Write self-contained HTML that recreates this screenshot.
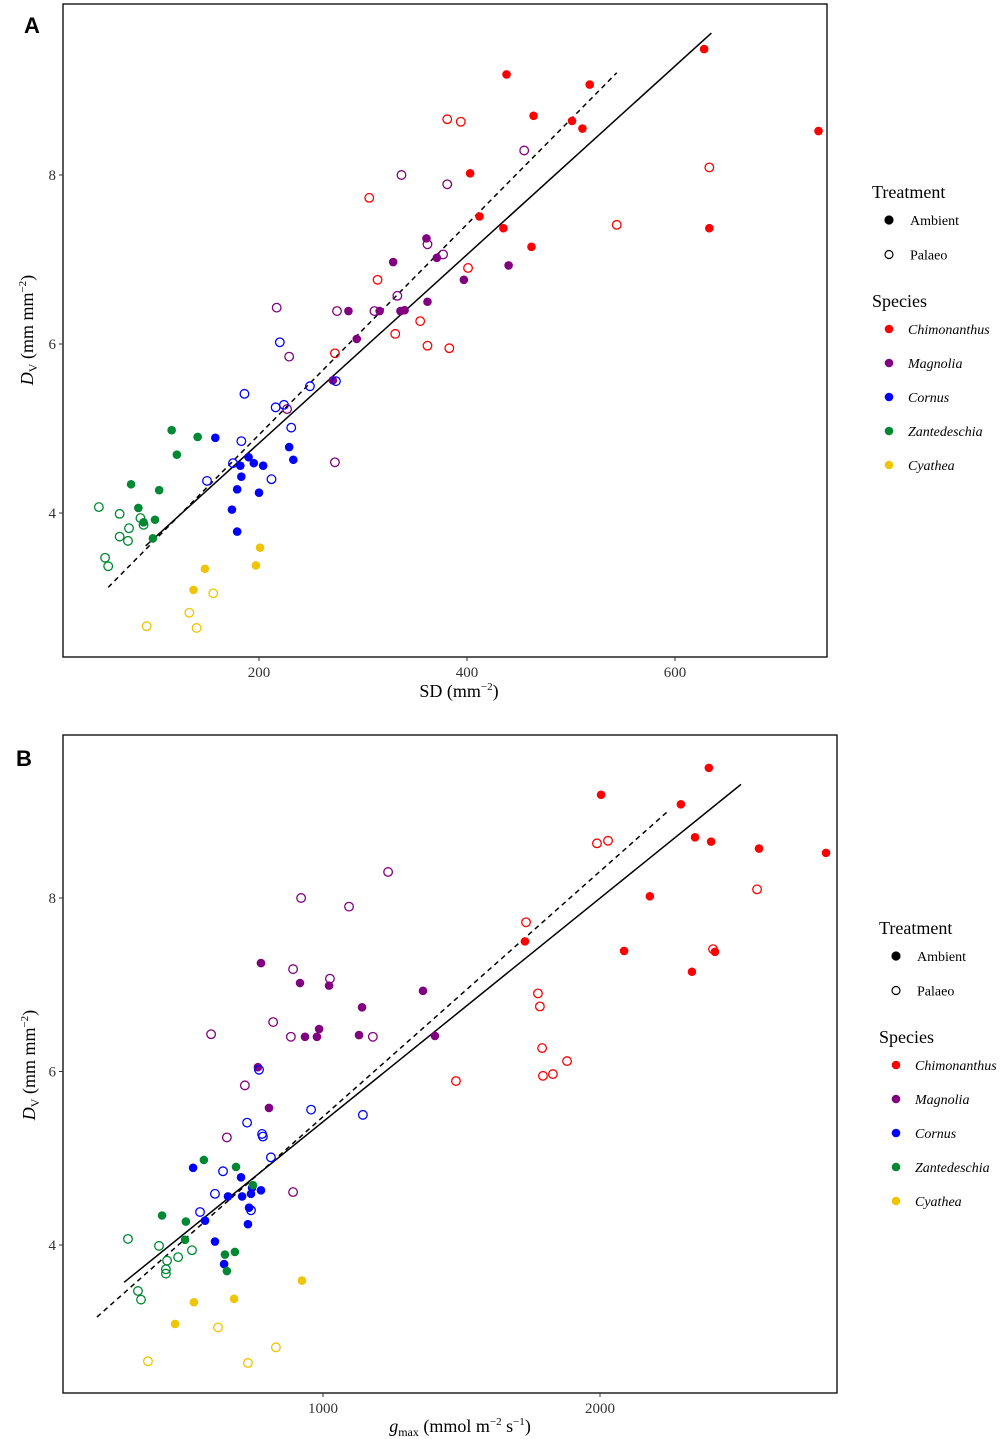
<!DOCTYPE html>
<html><head><meta charset="utf-8">
<style>
body{margin:0;background:#fff;}
svg{display:block;font-family:"Liberation Serif",serif;}
</style></head>
<body>
<svg id="fig" width="1000" height="1439" viewBox="0 0 1000 1439"></svg>
<script>
const speciesNames = ["Chimonanthus","Magnolia","Cornus","Zantedeschia","Cyathea"];
const speciesColors = ["#ff0000","#800080","#0000ff","#008833","#f0c400"];
// Dv values per species, ambient and palaeo
const dvAmb = [
 [9.19,9.07,8.70,8.64,8.55,9.49,8.52,8.02,7.51,7.37,7.15,7.37],
 [6.97,7.02,7.25,6.76,6.93,6.39,6.39,6.39,6.40,6.50,6.06,5.57],
 [4.89,4.78,4.66,4.59,4.56,4.56,4.63,4.43,4.28,4.24,4.04,3.78],
 [4.98,4.90,4.69,4.34,4.27,4.06,3.92,3.89,3.70],
 [3.59,3.38,3.34,3.09]];
const dvPal = [
 [8.66,8.63,7.73,8.09,7.41,6.76,6.90,6.27,6.12,5.89,5.98,5.95],
 [8.00,7.89,8.29,7.18,7.06,6.43,6.39,6.39,6.57,5.85,5.23,4.60],
 [6.02,5.41,5.50,5.56,5.25,5.28,5.01,4.85,4.59,4.38,4.40],
 [4.07,3.99,3.94,3.82,3.86,3.72,3.67,3.47,3.37],
 [3.05,2.82,2.66,2.64]];
// SD values (panel A)
const sdAmb = [
 [438,518,464,501,511,628,738,403,412,435,462,633],
 [329,371,361,397,440,286,316,336,340,362,294,271],
 [158,229,190,195,182,204,233,183,179,200,174,179],
 [116,141,121,77,104,84,100,89,98],
 [201,197,148,137]];
const sdPal = [
 [381,394,306,633,544,314,401,355,331,273,362,383],
 [337,381,455,362,377,217,275,311,333,229,227,273],
 [220,186,249,274,216,224,231,183,175,150,212],
 [46,66,86,75,89,66,74,52,55],
 [156,133,92,140]];
// gmax values (panel B)
const gAmb = [
 [2393,2292,2343,2004,2401,2816,2574,2180,1729,2087,2332,2415],
 [917,1022,776,1141,1361,986,935,978,1130,1404,765,805],
 [531,704,744,740,708,657,776,733,574,729,610,643],
 [570,686,747,419,505,502,682,646,653],
 [924,679,534,466]];
const dvAmbB = [
 [9.50,9.08,8.70,9.19,8.65,8.52,8.57,8.02,7.50,7.39,7.15,7.38],
 [7.02,6.99,7.25,6.74,6.93,6.49,6.40,6.40,6.42,6.41,6.05,5.58],
 [4.89,4.78,4.66,4.59,4.56,4.56,4.63,4.43,4.28,4.24,4.04,3.78],
 [4.98,4.90,4.69,4.34,4.27,4.06,3.92,3.89,3.70],
 [3.59,3.38,3.34,3.09]];
const gPal = [
 [1989,2029,1733,2567,2408,1783,1776,1791,1881,1480,1794,1830],
 [921,1094,1235,892,1025,596,820,884,1180,718,653,892],
 [769,726,1144,957,783,780,812,639,610,556,740],
 [296,408,527,437,477,433,433,332,343],
 [621,830,368,729]];
const dvPalB = [
 [8.63,8.66,7.72,8.10,7.41,6.75,6.90,6.27,6.12,5.89,5.95,5.97],
 [8.00,7.90,8.30,7.18,7.07,6.43,6.57,6.40,6.40,5.84,5.24,4.61],
 [6.02,5.41,5.50,5.56,5.25,5.28,5.01,4.85,4.59,4.38,4.40],
 [4.07,3.99,3.94,3.82,3.86,3.72,3.67,3.47,3.37],
 [3.05,2.82,2.66,2.64]];
const xTicksA = [200,400,600];
const xTicksB = [1000,2000];
const yTicks = [4,6,8];
const solidA = [[91,3.61],[635,9.68]];
const dashA = [[55,3.12],[544,9.21]];
const solidB = [[282,3.57],[2509,9.31]];
const dashB = [[184,3.17],[2245,9.0]];

const NS="http://www.w3.org/2000/svg";
const svg=document.getElementById('fig');
function mk(tag,attrs,parent){const e=document.createElementNS(NS,tag);for(const k in attrs)e.setAttribute(k,attrs[k]);(parent||svg).appendChild(e);return e;}

function panel(cfg){
  const g=mk('g',{});
  
  
  const sx=v=>cfg.x0+(v-cfg.xv0)*cfg.xs;
  const sy=v=>cfg.y0-(v-cfg.yv0)*cfg.ys;
  const box=mk('rect',{x:cfg.box[0],y:cfg.box[1],width:cfg.box[2]-cfg.box[0],height:cfg.box[3]-cfg.box[1],fill:'none',stroke:'#000','stroke-width':1.3},g);
  
  
  cfg.xt.forEach(t=>{
    mk('line',{x1:sx(t),x2:sx(t),y1:cfg.box[3],y2:cfg.box[3]+4,stroke:'#333'},g);
    const tx=mk('text',{x:sx(t),y:cfg.box[3]+20,'text-anchor':'middle','font-size':15,fill:'#333'},g);
    tx.textContent=t;
    
    
  });
  yTicks.forEach(t=>{
    mk('line',{x1:cfg.box[0]-4,x2:cfg.box[0],y1:sy(t),y2:sy(t),stroke:'#333'},g);
    const tx=mk('text',{x:cfg.box[0]-7,y:sy(t)+5,'text-anchor':'end','font-size':15,fill:'#333'},g);
    tx.textContent=t;
    
    
  });
  const L1=mk('line',{x1:sx(cfg.solid[0][0]),y1:sy(cfg.solid[0][1]),x2:sx(cfg.solid[1][0]),y2:sy(cfg.solid[1][1]),stroke:'#000','stroke-width':1.5},g);
  
  
  const L2=mk('line',{x1:sx(cfg.dash[0][0]),y1:sy(cfg.dash[0][1]),x2:sx(cfg.dash[1][0]),y2:sy(cfg.dash[1][1]),stroke:'#000','stroke-width':1.5,'stroke-dasharray':'5,4'},g);
  
  
  for(let s=0;s<5;s++){
    cfg.pxs[s].forEach((v,i)=>{
      const c=mk('circle',{cx:sx(v),cy:sy(cfg.pys[s][i]),r:4.3,fill:'none',stroke:speciesColors[s],'stroke-width':1.3},g);
      
      
    });
    cfg.axs[s].forEach((v,i)=>{
      const c=mk('circle',{cx:sx(v),cy:sy(cfg.ays[s][i]),r:4.3,fill:speciesColors[s]},g);
      
      
    });
  }
  const lt=mk('text',{x:cfg.letter[0],y:cfg.letter[1],'font-family':'Liberation Sans,sans-serif','font-weight':'bold','font-size':22},g);
  lt.textContent=cfg.letterText;
  
  
  const xl=mk('text',{x:cfg.xl[0],y:cfg.xl[1],'text-anchor':'middle','font-size':18},g);
  xl.innerHTML=cfg.xlabel;
  
  
  const yl=mk('text',{x:0,y:0,'text-anchor':'middle','font-size':18,transform:`translate(${cfg.yl[0]},${cfg.yl[1]}) rotate(-90)`},g);
  yl.innerHTML='<tspan font-style="italic">D</tspan><tspan font-size="12" dy="4">V</tspan><tspan dy="-4"> (mm mm</tspan><tspan font-size="11" dy="-7">−2</tspan><tspan dy="7">)</tspan>';
  
  
  const lx=cfg.leg[0], ly=cfg.leg[1];
  const lg=mk('g',{},g);
  
  
  const t1=mk('text',{x:lx,y:ly,'font-size':18},lg); t1.textContent='Treatment';
  
  
  [['Ambient',true],['Palaeo',false]].forEach((e,i)=>{
    const yy=ly+27+i*34.5;
    mk('circle',{cx:lx+17,cy:yy-5,r:4,fill:e[1]?'#000':'none',stroke:'#000','stroke-width':1.2},lg);
    const t=mk('text',{x:lx+38,y:yy,'font-size':14},lg); t.textContent=e[0];
    
    
  });
  const t2=mk('text',{x:lx,y:ly+109,'font-size':18},lg); t2.textContent='Species';
  
  
  speciesNames.forEach((n,i)=>{
    const yy=ly+136+i*34;
    mk('circle',{cx:lx+17,cy:yy-5,r:4.3,fill:speciesColors[i]},lg);
    const t=mk('text',{x:lx+36,y:yy,'font-size':14,'font-style':'italic'},lg); t.textContent=n;
    
    
  });
}
panel({name:'panel-a',box:[63,4,827,657],x0:259,xv0:200,xs:1.04,y0:513,yv0:4,ys:84.5,xt:xTicksA,
  solid:solidA,dash:dashA,axs:sdAmb,ays:dvAmb,pxs:sdPal,pys:dvPal,letter:[24,33],letterText:'A',
  xl:[459,697],xlabel:'SD (mm<tspan font-size="11" dy="-7">−2</tspan><tspan dy="7">)</tspan>',yl:[33,330],leg:[872,198]});
panel({name:'panel-b',box:[63,735,837,1393],x0:323,xv0:1000,xs:0.277,y0:1245,yv0:4,ys:86.75,xt:xTicksB,
  solid:solidB,dash:dashB,axs:gAmb,ays:dvAmbB,pxs:gPal,pys:dvPalB,letter:[16,766],letterText:'B',
  xl:[460,1432],xlabel:'<tspan font-style="italic">g</tspan><tspan font-size="12" dy="4">max</tspan><tspan dy="-4"> (mmol m</tspan><tspan font-size="11" dy="-7">−2</tspan><tspan dy="7"> s</tspan><tspan font-size="11" dy="-7">−1</tspan><tspan dy="7">)</tspan>',yl:[35,1065],leg:[879,934]});
</script>
</body></html>
